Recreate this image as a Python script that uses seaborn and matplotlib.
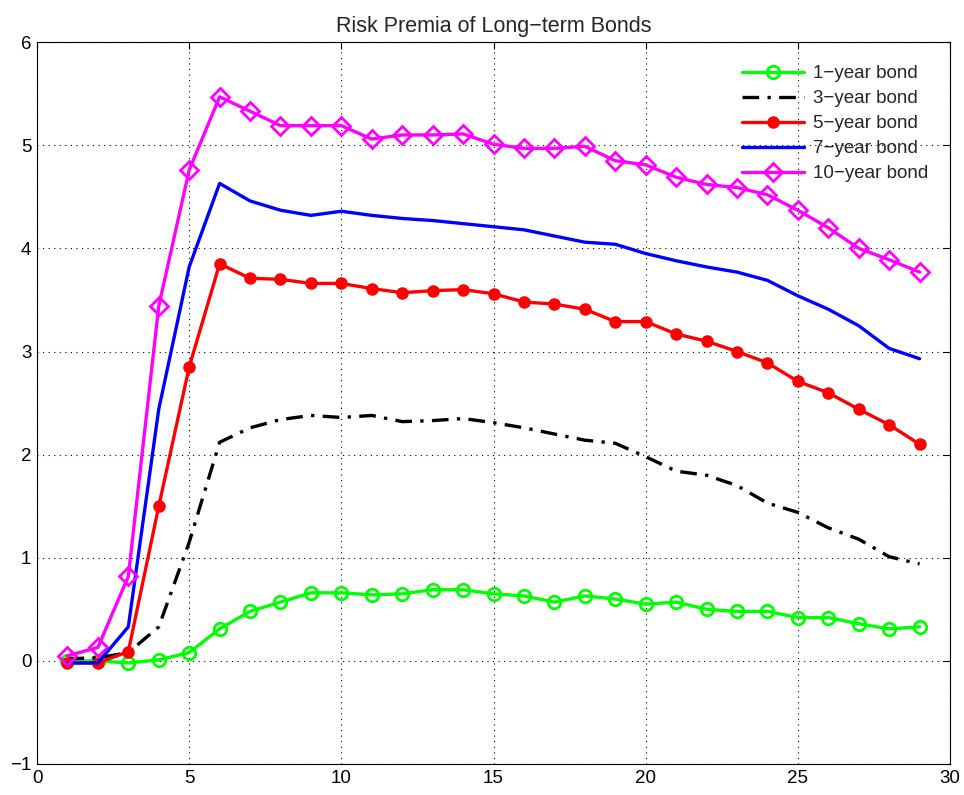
import matplotlib
matplotlib.use("Agg")
import matplotlib.pyplot as plt
import seaborn as sns
import numpy as np
import pandas as pd

horizon = list(range(1, 30))
bond_1y = [0.00, 0.00, -0.02, 0.01, 0.08, 0.31, 0.48, 0.57, 0.66, 0.66,
           0.64, 0.65, 0.69, 0.69, 0.65, 0.63, 0.57, 0.63, 0.60, 0.55,
           0.57, 0.50, 0.48, 0.48, 0.42, 0.42, 0.36, 0.31, 0.33]
bond_3y = [0.02, 0.03, 0.08, 0.33, 1.15, 2.12, 2.26, 2.34, 2.38, 2.36,
           2.38, 2.32, 2.33, 2.35, 2.31, 2.26, 2.20, 2.14, 2.11, 1.98,
           1.84, 1.80, 1.70, 1.53, 1.44, 1.29, 1.18, 1.01, 0.94]
bond_5y = [-0.02, -0.02, 0.09, 1.50, 2.85, 3.85, 3.71, 3.70, 3.66, 3.66,
           3.61, 3.57, 3.59, 3.60, 3.56, 3.48, 3.46, 3.41, 3.29, 3.29,
           3.17, 3.10, 3.00, 2.89, 2.71, 2.60, 2.44, 2.29, 2.10]
bond_7y = [-0.02, -0.02, 0.33, 2.44, 3.82, 4.63, 4.46, 4.37, 4.32, 4.36,
           4.32, 4.29, 4.27, 4.24, 4.21, 4.18, 4.12, 4.06, 4.04, 3.95,
           3.88, 3.82, 3.77, 3.69, 3.54, 3.41, 3.25, 3.03, 2.93]
bond_10y = [0.05, 0.13, 0.82, 3.44, 4.76, 5.47, 5.33, 5.19, 5.19, 5.19,
            5.06, 5.10, 5.10, 5.11, 5.01, 4.97, 4.97, 4.99, 4.85, 4.81,
            4.69, 4.62, 4.59, 4.52, 4.37, 4.20, 4.00, 3.89, 3.77]
labels = ["1\u2212year bond", "3\u2212year bond", "5\u2212year bond",
          "7\u2212year bond", "10\u2212year bond"]
title = "Risk Premia of Long\u2212term Bonds"
xticks = [0, 5, 10, 15, 20, 25, 30]
yticks = [-1, 0, 1, 2, 3, 4, 5, 6]

sns.set_style("white")
plt.rcParams['font.family'] = ['Liberation Sans', 'DejaVu Sans']
plt.rcParams['axes.unicode_minus'] = True

fig = plt.figure(figsize=(9.64, 7.95), dpi=100)
ax = fig.add_axes([0.0384, 0.039, 0.9471, 0.908])

lw = 2.4
sns.lineplot(x=horizon, y=bond_1y, ax=ax, color="#00ff00", linewidth=lw,
             marker="o", markersize=9, markerfacecolor="none",
             markeredgecolor="#00ff00", markeredgewidth=2.0, label=labels[0])
sns.lineplot(x=horizon, y=bond_3y, ax=ax, color="black", linewidth=lw,
             linestyle=(0, (5, 2.5, 1, 2.5)), label=labels[1])
sns.lineplot(x=horizon, y=bond_5y, ax=ax, color="#ff0000", linewidth=lw,
             marker="o", markersize=8, markerfacecolor="#ff0000",
             markeredgecolor="#ff0000", markeredgewidth=1.0, label=labels[2])
sns.lineplot(x=horizon, y=bond_7y, ax=ax, color="#0000ff", linewidth=lw,
             label=labels[3])
sns.lineplot(x=horizon, y=bond_10y, ax=ax, color="#ff00ff", linewidth=lw,
             marker="D", markersize=9.5, markerfacecolor="none",
             markeredgecolor="#ff00ff", markeredgewidth=2.0, label=labels[4])

ax.set_xlim(0, 30)
ax.set_ylim(-1, 6)
ax.set_xticks(xticks)
ax.set_yticks(yticks)
ax.set_xticklabels([str(t) for t in xticks])
ax.set_yticklabels([str(t).replace("-", "\u2212") for t in yticks])
ax.grid(True, linestyle=(0, (1, 4)), color="black", linewidth=0.8)
ax.tick_params(direction="in", top=True, right=True, length=5, width=0.8,
               labelsize=13.5, colors="black", pad=4)
for s in ax.spines.values():
    s.set_visible(True)
    s.set_color("black")
    s.set_linewidth(0.8)
ax.set_xlabel("")
ax.set_ylabel("")
ax.set_title(title, fontsize=15.5, pad=7)

leg = ax.legend(loc="upper right", frameon=False, fontsize=13.5,
                handlelength=3.3, handletextpad=0.45, labelspacing=0.42,
                borderaxespad=0.3, bbox_to_anchor=(0.99, 0.986))

fig.savefig("out.png", dpi=100, facecolor="white")
